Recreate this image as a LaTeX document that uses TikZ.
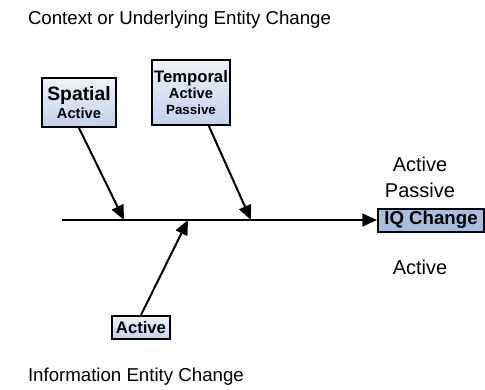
\documentclass[tikz,border=0pt]{standalone}
\usepackage{fontspec}
\setmainfont{Liberation Sans}
\usetikzlibrary{arrows.meta, positioning}

\definecolor{boxlight}{HTML}{EEF2FB}
\definecolor{boxdark}{HTML}{C3D1EC}
\definecolor{iqfill}{HTML}{A6BEE0}

\begin{document}
\begin{tikzpicture}[
        x = 0.75pt, y = -0.75pt,
        >= {Triangle[length = 11pt, width = 9.5pt]},
        line width = 1.5pt,
        cause/.style = {draw, line width = 1.5pt, top color = boxlight, bottom color = boxdark,
                        align = center, inner sep = 0pt, font = \bfseries},
        effect/.style = {draw, line width = 1.5pt, fill = iqfill, inner sep = 0pt,
                         font = \fontsize{14}{16}\selectfont\bfseries},
        caption/.style = {inner sep = 0pt, font = \fontsize{14}{16}\selectfont},
        mode/.style = {inner sep = 0pt, anchor = base, font = \fontsize{15}{17}\selectfont}
    ]
      \useasboundingbox (0,0) rectangle (485,389);

      % headings
      \node[caption, anchor = base west] (top) at (27,24) {Context or Underlying Entity Change};
      \node[caption, anchor = base west] (bottom) at (27,381) {Information Entity Change};

      % causes and effect
      \node[cause, minimum width = 55.5pt, minimum height = 36.75pt] (spatial) at (79,102.5)
        {\fontsize{14.5}{15}\selectfont Spatial\\[2pt]\fontsize{11}{13}\selectfont Active};
      \node[cause, minimum width = 58pt, minimum height = 48.75pt] (temporal) at (191,92.5)
        {\fontsize{12.5}{14}\selectfont Temporal\\\fontsize{11}{13.5}\selectfont Active\\Passive};
      \node[cause, minimum width = 43.5pt, minimum height = 17.25pt, font = \fontsize{12.5}{14}\selectfont\bfseries] (info) at (141,327.5) {Active};
      \node[effect, minimum width = 79.5pt, minimum height = 17.25pt] (iq) at (431,220) {IQ Change};

      % modes next to the effect
      \node[mode] (active) at (420,171) {Active};
      \node[mode] (passive) at (420,197) {Passive};
      \node[mode] (lower) at (420,274) {Active};

      % spine and bones
      \coordinate (tail) at (62,220);
      \coordinate (hitA) at (124,220);
      \coordinate (hitB) at (251,220);
      \coordinate (hitC) at (188,220);

      \draw[->] (tail) -- (iq.west);
      \draw[->] (spatial.south) -- (hitA);
      \draw[->] (temporal.-62) -- (hitB);
      \draw[->] (info.north) -- (hitC);
    \end{tikzpicture}
\end{document}
